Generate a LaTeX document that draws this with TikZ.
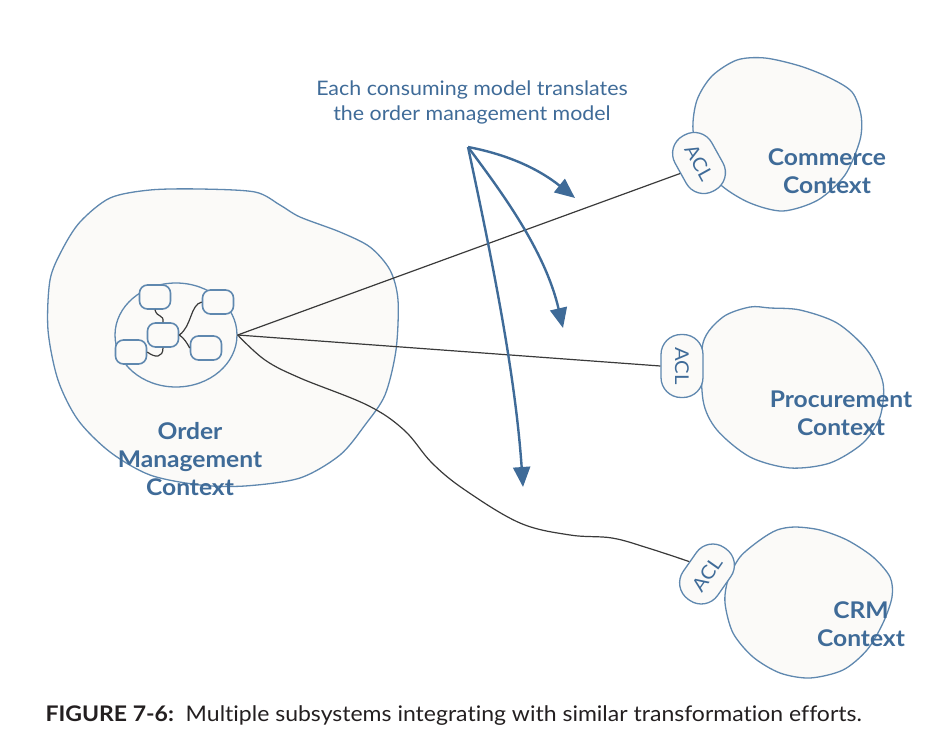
\documentclass[tikz,border=0pt]{standalone}
\usepackage{fontspec}
\setmainfont{Lato}[FakeStretch=1.07,Ligatures={NoCommon}]
\usetikzlibrary{arrows.meta,shapes.geometric}
\definecolor{blobline}{HTML}{5F88AF}
\definecolor{blobfill}{HTML}{FBFAF8}
\definecolor{ctxblue}{HTML}{3F6B98}
\definecolor{wiregrey}{HTML}{3A3A3A}
\definecolor{captionink}{HTML}{231F20}
\begin{document}
\begin{tikzpicture}[x=1pt,y=-1pt,
  blob/.style={draw=blobline,fill=blobfill,line width=1.3pt},
  svc/.style={draw=blobline,fill=blobfill,line width=1.6pt,rounded corners=8pt,minimum width=31pt,minimum height=24pt,inner sep=0pt},
  acl/.style={draw=blobline,fill=blobfill,line width=1.3pt,rounded corners=20pt,minimum width=63pt,minimum height=42pt,inner sep=0pt,text=ctxblue,font=\fontsize{19}{19}\selectfont},
  ctxlabel/.style={text=ctxblue,align=center,font=\fontsize{23}{28}\selectfont\bfseries},
  wire/.style={draw=wiregrey,line width=1.2pt},
  flow/.style={draw=ctxblue,line width=2.4pt,-{Triangle[width=17pt,length=20pt]}}]
\useasboundingbox (0,0) rectangle (949,754);

\draw[blob] plot[smooth cycle] coordinates {(80,222) (110,198) (150,190) (200,189) (255,192) (280,205) (300,217) (340,232) (370,247) (390,270) (398,300) (396,350) (385,395) (365,425) (340,455) (300,478) (245,486) (200,485) (150,475) (110,452) (78,420) (58,380) (48,330) (50,280) (62,250)};
\draw[blob] plot[smooth cycle] coordinates {(737,60) (765,58) (800,66) (830,78) (852,92) (861,115) (860,140) (845,175) (818,200) (783,211) (750,203) (722,186) (702,162) (693,130) (697,100) (712,76)};
\draw[blob] plot[smooth cycle] coordinates {(750,307) (770,308) (800,310) (837,323) (867,350) (883,383) (880,417) (863,443) (830,463) (790,468) (750,457) (717,430) (703,400) (703,343) (723,317)};
\draw[blob] plot[smooth cycle] coordinates {(777,530) (795,527) (820,530) (847,540) (873,557) (890,577) (892,597) (883,623) (867,650) (843,670) (810,678) (780,673) (753,657) (733,633) (725,603) (728,580) (740,557) (760,540)};

\node[ellipse,blob,minimum width=122pt,minimum height=104pt] (core) at (176,335) {};
\node[svc] (orders) at (155,297) {};
\node[svc] (billing) at (218,302) {};
\node[svc] (hub) at (163,335) {};
\node[svc] (items) at (131,352) {};
\node[svc] (stock) at (206,348) {};
\draw[wire] (orders.south) .. controls (157,318) and (164,314) .. (hub.north);
\draw[wire] (hub.east) .. controls (192,326) and (190,305) .. (billing.west);
\draw[wire] (hub.east) .. controls (184,338) and (187,343) .. (stock.west);
\draw[wire] (hub.south) .. controls (163,358) and (155,358) .. (items.east);

\node[acl,rotate=-61] (commacl) at (699,163) {ACL};
\node[acl,rotate=-90] (procacl) at (682,366) {ACL};
\node[acl,rotate=55] (crmacl) at (707,574) {ACL};

\draw[wire] (core.east) -- (commacl.south);
\draw[wire] (core.east) -- (procacl.south);
\draw[wire] plot[smooth,tension=0.6] coordinates {(core.east) (265,360) (300,378) (367,405) (404,430) (432,463) (465,490) (520,523) (570,535) (612,538) (648,548) (crmacl.north)};

\node[text=ctxblue,align=center,font=\fontsize{20}{25}\selectfont] (note) at (472,102) {Each consuming model translates\\the order management model};
\coordinate (src) at (468,147);
\draw[flow] (src) .. controls (510,155) and (540,170) .. (575,198);
\draw[flow] (src) .. controls (500,190) and (545,250) .. (563,328);
\draw[flow] (src) .. controls (490,250) and (515,370) .. (523,487);

\node[ctxlabel] (omc) at (190,459) {Order\\Management\\Context};
\node[ctxlabel] (comm) at (827,171) {Commerce\\Context};
\node[ctxlabel] (proc) at (841,413) {Procurement\\Context};
\node[ctxlabel] (crm) at (861,624) {CRM\\Context};

\node[anchor=west,text=captionink,font=\fontsize{21.5}{21.5}\selectfont] (cap) at (42,716) {\textbf{FIGURE 7-6:}\ \ Multiple subsystems integrating with similar transformation efforts.};
\end{tikzpicture}
\end{document}
